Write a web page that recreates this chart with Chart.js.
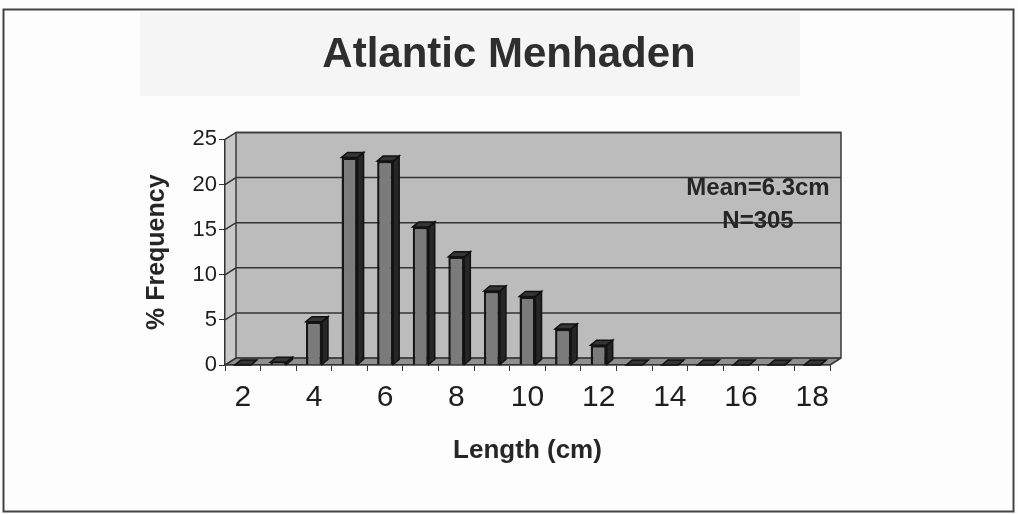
<!DOCTYPE html>
<html>
<head>
<meta charset="utf-8">
<title>Atlantic Menhaden</title>
<script src="https://cdn.jsdelivr.net/npm/chart.js@4.4.1/dist/chart.umd.min.js"></script>
<style>
  html, body { margin: 0; padding: 0; background: #fcfdfc; }
  #wrap { width: 1018px; height: 514px; }
</style>
</head>
<body>
<div id="wrap"><canvas id="lengthChart" width="1018" height="514"></canvas></div>
<script>
// length classes (cm) and % frequency
const lengths = ['2', '3', '4', '5', '6', '7', '8', '9', '10', '11', '12', '13', '14', '15', '16', '17', '18'];
const frequency = [0, 0.3, 4.8, 23.0, 22.6, 15.3, 12.0, 8.2, 7.6, 4.0, 2.2, 0, 0, 0, 0, 0, 0];
const yTicks = [0, 5, 10, 15, 20, 25];
const noteLines = ['Mean=6.3cm', 'N=305'];

const WALL_DX = 11, WALL_DY = -7;   // depth of the back wall
const BAR_DX = 6, BAR_DY = -5;      // depth of each bar

// page, frame and the 3d walls / floor behind the bars
const backdrop = {
    id: 'backdrop',
    afterLayout(chart) {
        // centre the title on the whole page, not just between the paddings
        if (chart.titleBlock) {
            chart.titleBlock.left = 0;
            chart.titleBlock.right = chart.width;
        }
    },
    beforeDraw(chart) {
        const ctx = chart.ctx;
        const a = chart.chartArea;
        const yScale = chart.scales.y;
        ctx.save();
        ctx.fillStyle = '#fcfdfc';
        ctx.fillRect(0, 0, chart.width, chart.height);
        // faint show-through from the other side of the page
        ctx.fillStyle = '#f4f5f4';
        ctx.fillRect(140, 12, 660, 84);

        ctx.strokeStyle = '#444';
        ctx.lineWidth = 2;
        ctx.strokeRect(3.5, 9.5, 1010, 502);

        // back wall
        ctx.fillStyle = '#bcbcbc';
        ctx.fillRect(a.left + WALL_DX, a.top + WALL_DY, a.right - a.left, a.bottom - a.top);
        // side wall
        ctx.fillStyle = '#c8c8c8';
        ctx.beginPath();
        ctx.moveTo(a.left, a.top);
        ctx.lineTo(a.left + WALL_DX, a.top + WALL_DY);
        ctx.lineTo(a.left + WALL_DX, a.bottom + WALL_DY);
        ctx.lineTo(a.left, a.bottom);
        ctx.closePath();
        ctx.fill();
        // floor
        ctx.fillStyle = '#8f8f8f';
        ctx.beginPath();
        ctx.moveTo(a.left, a.bottom);
        ctx.lineTo(a.left + WALL_DX, a.bottom + WALL_DY);
        ctx.lineTo(a.right + WALL_DX, a.bottom + WALL_DY);
        ctx.lineTo(a.right, a.bottom);
        ctx.closePath();
        ctx.fill();
        ctx.strokeStyle = '#555';
        ctx.lineWidth = 1;
        ctx.stroke();

        // gridlines on side wall + back wall
        ctx.strokeStyle = '#333';
        ctx.lineWidth = 1.5;
        yScale.ticks.forEach(t => {
            const y = yScale.getPixelForValue(t.value);
            ctx.beginPath();
            ctx.moveTo(a.left, y);
            ctx.lineTo(a.left + WALL_DX, y + WALL_DY);
            ctx.lineTo(a.right + WALL_DX, y + WALL_DY);
            ctx.stroke();
        });
        // back wall outline
        ctx.strokeStyle = '#3a3a3a';
        ctx.beginPath();
        ctx.moveTo(a.left + WALL_DX, a.bottom + WALL_DY);
        ctx.lineTo(a.left + WALL_DX, a.top + WALL_DY);
        ctx.lineTo(a.right + WALL_DX, a.top + WALL_DY);
        ctx.lineTo(a.right + WALL_DX, a.bottom + WALL_DY);
        ctx.lineTo(a.right, a.bottom);
        ctx.stroke();
        ctx.restore();
    }
};

// side and top faces for each bar, plus the Mean / N note
const bars3d = {
    id: 'bars3d',
    afterDatasetsDraw(chart) {
        const ctx = chart.ctx;
        const a = chart.chartArea;
        ctx.save();
        ctx.lineWidth = 1.5;
        ctx.strokeStyle = '#111';
        chart.getDatasetMeta(0).data.forEach(bar => {
            const p = bar.getProps(['x', 'y', 'base', 'width'], true);
            const l = p.x - p.width / 2;
            const r = p.x + p.width / 2;
            // right side
            ctx.fillStyle = '#262626';
            ctx.beginPath();
            ctx.moveTo(r, p.y);
            ctx.lineTo(r + BAR_DX, p.y + BAR_DY);
            ctx.lineTo(r + BAR_DX, p.base + BAR_DY);
            ctx.lineTo(r, p.base);
            ctx.closePath();
            ctx.fill();
            ctx.stroke();
            // top
            ctx.fillStyle = '#353535';
            ctx.beginPath();
            ctx.moveTo(l, p.y);
            ctx.lineTo(l + BAR_DX, p.y + BAR_DY);
            ctx.lineTo(r + BAR_DX, p.y + BAR_DY);
            ctx.lineTo(r, p.y);
            ctx.closePath();
            ctx.fill();
            ctx.stroke();
        });

        ctx.fillStyle = '#262626';
        ctx.font = 'bold 24px "Liberation Sans", Arial, sans-serif';
        ctx.textAlign = 'center';
        ctx.textBaseline = 'middle';
        noteLines.forEach((line, i) => {
            ctx.fillText(line, a.right - 72, a.top + 49 + i * 33);
        });
        ctx.restore();
    }
};

const ctx = document.getElementById('lengthChart').getContext('2d');
new Chart(ctx, {
    type: 'bar',
    data: {
        labels: lengths,
        datasets: [{
            label: '% Frequency',
            data: frequency,
            backgroundColor: '#7b7b7b',
            borderColor: '#161616',
            borderWidth: 2.5,
            barPercentage: 0.45,
            categoryPercentage: 1.0
        }]
    },
    options: {
        responsive: false,
        animation: false,
        devicePixelRatio: 1,
        layout: {
            padding: { left: 138, right: 188, top: 0, bottom: 44 }
        },
        plugins: {
            legend: { display: false },
            tooltip: { enabled: false },
            title: {
                display: true,
                text: 'Atlantic Menhaden',
                color: '#2e2e2e',
                font: { family: '"Liberation Sans", Arial, sans-serif', size: 42, weight: 'bold' },
                padding: { top: 30, bottom: 59 }
            }
        },
        scales: {
            x: {
                afterFit: scale => { scale.height = 105; },
                grid: { drawOnChartArea: false, drawTicks: true, tickLength: 6, color: '#333', offset: true },
                border: { display: true, color: '#333', width: 1.5 },
                ticks: {
                    autoSkip: false,
                    maxRotation: 0,
                    padding: 9,
                    color: '#1e1e1e',
                    font: { family: '"Liberation Sans", Arial, sans-serif', size: 30 },
                    callback: function (value) {
                        const lab = lengths[value];
                        return Number(lab) % 2 === 0 ? lab : '';
                    }
                },
                title: {
                    display: true,
                    text: 'Length (cm)',
                    color: '#262626',
                    padding: { top: 4, bottom: 4 },
                    font: { family: '"Liberation Sans", Arial, sans-serif', size: 26, weight: 'bold' }
                }
            },
            y: {
                min: 0,
                max: 25,
                afterFit: scale => { scale.width = 87; },
                afterBuildTicks: scale => { scale.ticks = yTicks.map(v => ({ value: v })); },
                grid: { drawOnChartArea: false, drawTicks: true, tickLength: 6, color: '#333' },
                border: { display: true, color: '#333', width: 1.5 },
                ticks: {
                    padding: 2,
                    color: '#1e1e1e',
                    font: { family: '"Liberation Sans", Arial, sans-serif', size: 22 }
                },
                title: {
                    display: true,
                    text: '% Frequency',
                    color: '#262626',
                    padding: { top: 4, bottom: 4 },
                    font: { family: '"Liberation Sans", Arial, sans-serif', size: 25, weight: 'bold' }
                }
            }
        }
    },
    plugins: [backdrop, bars3d]
});
</script>
</body>
</html>
